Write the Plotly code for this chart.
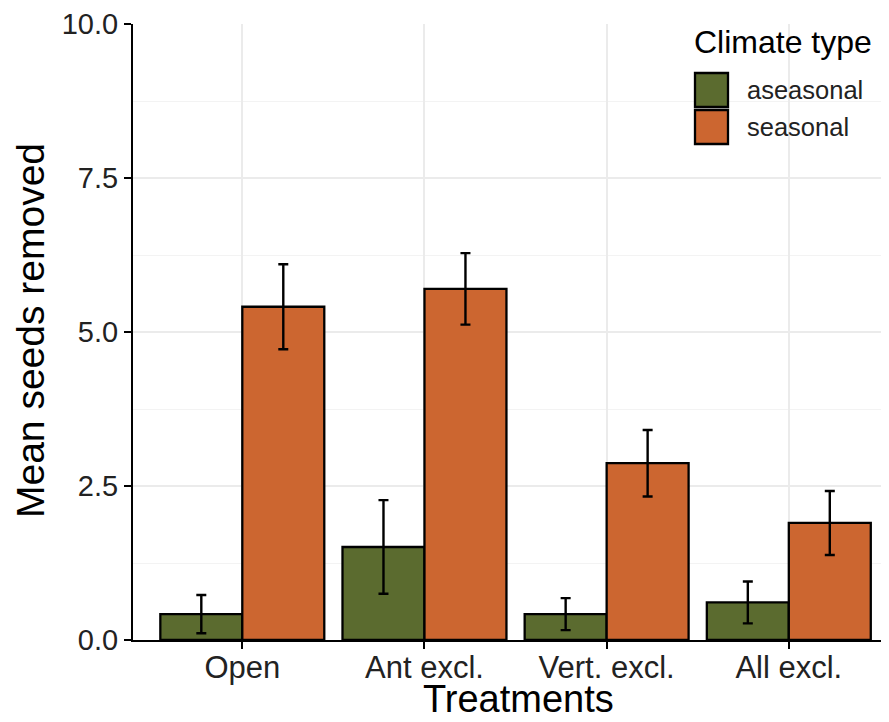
import plotly.graph_objects as go

categories = ["Open", "Ant excl.", "Vert. excl.", "All excl."]
aseasonal_mean = [0.42, 1.51, 0.42, 0.61]
aseasonal_err = [0.31, 0.76, 0.26, 0.34]
seasonal_mean = [5.41, 5.70, 2.87, 1.90]
seasonal_err = [0.69, 0.58, 0.54, 0.52]
series_names = ["aseasonal", "seasonal"]
colors = ["#5b6b2f", "#cc6630"]
y_ticks = [0, 2.5, 5, 7.5, 10]
y_tick_labels = ["0.0", "2.5", "5.0", "7.5", "10.0"]
x_title = "Treatments"
y_title = "Mean seeds removed"
legend_title = "Climate type"

OFF = 8  # page body margin
W, H = 889 - OFF, 722 - OFF
L, R, T, B = 133 - OFF, 0, 24 - OFF, 722 - 640
pw, ph = W - L - R, H - T - B

def px(x):  # page pixel -> paper
    return (x - OFF - L) / pw

def py(y):
    return (H - B - (y - OFF)) / ph

FONT = "Liberation Sans, Arial, sans-serif"

fig = go.Figure()
for name, mean, err, col in [
    (series_names[0], aseasonal_mean, aseasonal_err, colors[0]),
    (series_names[1], seasonal_mean, seasonal_err, colors[1]),
]:
    fig.add_trace(go.Bar(
        name=name, x=categories, y=mean,
        marker=dict(color=col, line=dict(color="black", width=2.3)),
        error_y=dict(type="data", array=err, visible=True, color="black",
                     thickness=2.4, width=5),
        showlegend=False,
    ))

# axis titles
fig.add_annotation(x=px(518), y=py(699), xref="paper", yref="paper",
                   text=x_title, showarrow=False, xanchor="center", yanchor="middle",
                   font=dict(family=FONT, size=38, color="black"))
fig.add_annotation(x=px(30), y=py(331), xref="paper", yref="paper",
                   text=y_title, showarrow=False, xanchor="center", yanchor="middle",
                   textangle=-90, font=dict(family=FONT, size=39, color="black"))

# custom legend
fig.add_annotation(x=px(692), y=py(42), xref="paper", yref="paper",
                   text=legend_title, showarrow=False, xanchor="left", yanchor="middle",
                   font=dict(family=FONT, size=32, color="black"))
key_tops = [73, 110]
for i, (name, col) in enumerate(zip(series_names, colors)):
    t = key_tops[i]
    fig.add_shape(type="rect", xref="paper", yref="paper",
                  x0=px(695), x1=px(728), y0=py(t), y1=py(t + 34),
                  fillcolor=col, line=dict(color="black", width=2.3))
    fig.add_annotation(x=px(745), y=py(t + 17), xref="paper", yref="paper",
                       text=name, showarrow=False, xanchor="left", yanchor="middle",
                       font=dict(family=FONT, size=25.5, color="#222"))

fig.update_layout(
    width=W, height=H,
    margin=dict(l=L, r=R, t=T, b=B, pad=0),
    paper_bgcolor="white", plot_bgcolor="white",
    barmode="group", bargap=0.1, bargroupgap=0,
    font=dict(family=FONT, color="black"),
    showlegend=False,
)
fig.update_xaxes(
    range=[-0.6, 3.55], showline=True, linecolor="black", linewidth=2,
    ticks="outside", ticklen=7, tickwidth=2, tickcolor="black",
    showgrid=True, gridcolor="#ebebeb", gridwidth=1.5,
    tickfont=dict(family=FONT, size=31, color="#222"),
    ticklabelstandoff=-8,
    zeroline=False,
)
fig.update_yaxes(
    range=[0, 10], tickvals=y_ticks, ticktext=y_tick_labels,
    showline=True, linecolor="black", linewidth=2,
    ticks="outside", ticklen=7, tickwidth=2, tickcolor="black",
    showgrid=True, gridcolor="#ebebeb", gridwidth=1.5,
    minor=dict(tickvals=[1.25, 3.75, 6.25, 8.75], showgrid=True, gridcolor="#f3f3f3", gridwidth=1, ticks=""),
    tickfont=dict(family=FONT, size=29, color="#222"),
    zeroline=False,
)

fig.write_html("out.html")
